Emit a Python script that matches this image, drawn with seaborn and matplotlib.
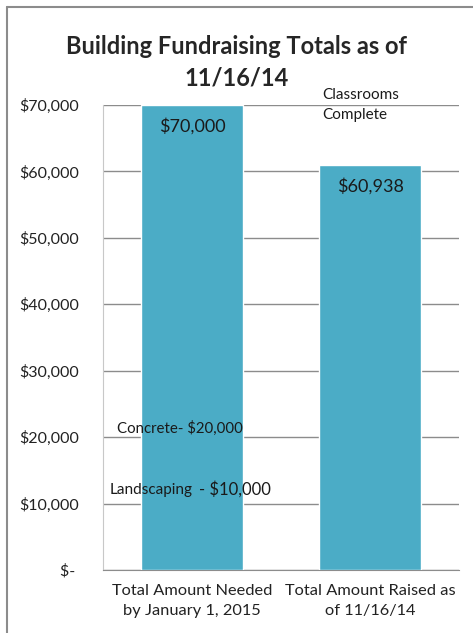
import matplotlib
matplotlib.use("Agg")
import matplotlib.pyplot as plt
import matplotlib.ticker as mticker
from matplotlib.lines import Line2D
import pandas as pd
import seaborn as sns

categories = ["Total Amount Needed\nby January 1, 2015", "Total Amount Raised as\nof 11/16/14"]
amounts = [70000, 60938]
bar_labels = ["$70,000", "$60,938"]
y_ticks = [0, 10000, 20000, 30000, 40000, 50000, 60000, 70000]

df = pd.DataFrame({"category": categories, "amount": amounts})

sns.set_style("white")
plt.rcParams["font.family"] = ["Lato", "DejaVu Sans"]

fig = plt.figure(figsize=(4.73, 6.33), dpi=100)
ax = fig.add_axes([103 / 473, 1 - 570 / 633, 356 / 473, 465 / 633])

sns.barplot(data=df, x="category", y="amount", color="#4BACC6", saturation=1,
            width=0.57, ax=ax, zorder=3)

ax.set_ylim(0, 70000)
ax.set_yticks(y_ticks)
ax.yaxis.set_major_formatter(mticker.FuncFormatter(
    lambda v, p: "$- " if v == 0 else f"${v:,.0f}"))
ax.grid(axis="y", color="#8c8c8c", lw=1, zorder=0)
ax.set_axisbelow(True)
ax.set_xlabel("")
ax.set_ylabel("")
ax.tick_params(axis="y", length=0, pad=17, labelsize=11.5, labelcolor="#222222")
ax.tick_params(axis="x", length=0, pad=10, labelsize=11.8, labelcolor="#222222")
for t in ax.get_xticklabels():
    t.set_linespacing(1.6)

for s in ["top", "right"]:
    ax.spines[s].set_visible(False)
ax.spines["left"].set_color("#c8c8c8")
ax.spines["bottom"].set_color("#8c8c8c")

# value labels inside bar tops
for i, (v, lab) in enumerate(zip(amounts, bar_labels)):
    ax.text(i, v - 3200, lab, ha="center", va="center", fontsize=13, color="#1a1a1a")

# annotations
ax.text(-0.42, 21400, "Concrete- $20,000", ha="left", va="center", fontsize=10.8, color="#1a1a1a")
ax.text(-0.46, 12000, "Landscaping", ha="left", va="center", fontsize=11, color="#1a1a1a")
ax.text(0.04, 12200, "- $10,000", ha="left", va="center", fontsize=12, color="#1a1a1a")
ax.text(0.73, 71500, "Classrooms", ha="left", va="center", fontsize=11, color="#1a1a1a",
        clip_on=False)
ax.text(0.73, 68500, "Complete", ha="left", va="center", fontsize=11, color="#1a1a1a")

fig.suptitle("Building Fundraising Totals as of\n11/16/14", x=0.5, y=0.945,
             fontsize=17, fontweight="bold", linespacing=1.45)

# chart frame (left and top edges)
fig.add_artist(Line2D([7 / 473, 7 / 473], [0, 1 - 7 / 633], color="#8c8c8c", lw=1.5))
fig.add_artist(Line2D([7 / 473, 1], [1 - 7 / 633, 1 - 7 / 633], color="#8c8c8c", lw=1.5))

fig.savefig("out.png", dpi=100)
